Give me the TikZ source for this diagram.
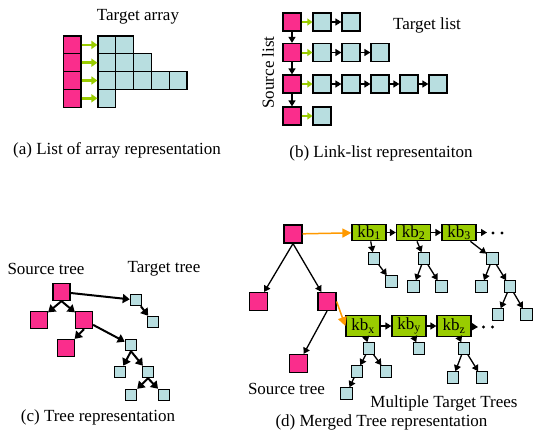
\documentclass[tikz,border=0pt]{standalone}
\usepackage{fontspec}
\setmainfont{Liberation Serif}
\usetikzlibrary{arrows.meta}
\definecolor{srcpink}{RGB}{250,45,140}
\definecolor{tgtcyan}{RGB}{184,222,224}
\definecolor{kbgreen}{RGB}{153,204,0}
\definecolor{linkorange}{RGB}{255,153,0}

\begin{document}
\begin{tikzpicture}[x=1pt,y=-1pt,
    every node/.style={font=\fontsize{17}{20}\selectfont},
    src/.style={draw,fill=srcpink,line width=1.2pt,minimum size=18pt,inner sep=0pt},
    tgt/.style={draw,fill=tgtcyan,line width=1.2pt,minimum size=18pt,inner sep=0pt},
    leaf/.style={draw,fill=tgtcyan,line width=1pt,minimum size=11.5pt,inner sep=0pt},
    kb/.style={draw,fill=kbgreen,line width=1.2pt,minimum width=34pt,minimum height=16.5pt,inner sep=0pt},
    dotnode/.style={circle,fill,minimum size=3.4pt,inner sep=0pt},
    ptr/.style={-{Triangle[length=6pt,width=7pt]},line width=1.3pt},
    treeptr/.style={-{Triangle[length=7pt,width=9pt]},line width=2pt},
    greenptr/.style={-{Triangle[length=6pt,width=8pt]},draw=kbgreen,fill=kbgreen,line width=2.5pt},
    orangeptr/.style={-{Triangle[length=9pt,width=9pt]},draw=linkorange,fill=linkorange,line width=1.5pt}]
  \useasboundingbox (0,0) rectangle (533,431);%

  % (a) list of arrays
  \foreach \i/\n in {1/2,2/3,3/5,4/1} {%
    \node[src,minimum size=17.8pt] (a\i) at (72,{27.1+17.8*\i}) {};%
    \foreach \j in {1,...,\n}
      \node[tgt,minimum size=17.8pt] (a\i-\j) at ({89.1+17.8*\j},{27.1+17.8*\i}) {};%
    \draw[greenptr] (a\i) -- (a\i-1);%
  }
  \node (tarray) at (138,17) {Target array};%
  \node (capa) at (117,150) {(a) List of array representation};%

  % (b) link-lists
  \foreach \i/\y/\n in {1/22/2,2/52.5/3,3/84/5,4/116/1} {%
    \node[src] (b\i) at (292,\y) {};%
    \foreach \j in {1,...,\n}
      \node[tgt] (b\i-\j) at ({293+29*\j},\y) {};%
    \draw[greenptr,line width=2pt,-{Triangle[length=5pt,width=7pt]}] (b\i) -- (b\i-1);%
  }
  \foreach \p/\q in {b1/b2,b2/b3,b3/b4,b1-1/b1-2,b2-1/b2-2,b2-2/b2-3,b3-1/b3-2,b3-2/b3-3,b3-3/b3-4,b3-4/b3-5}
    \draw[ptr] (\p) -- (\q);%
  \node (tlist) at (427,25) {Target list};%
  \node[rotate=90] (slist) at (268,72.5) {Source list};%
  \node (capb) at (381,153) {(b) Link-list representaiton};%

  % (c) trees
  \node[src,minimum size=17pt] (pc0) at (61.5,292) {};%
  \node[src,minimum size=17pt] (pc1) at (39,320) {};%
  \node[src,minimum size=17pt] (pc2) at (84,320) {};%
  \node[src,minimum size=17pt] (pc3) at (66,348) {};%
  \node[leaf] (tc0) at (136,300) {};%
  \node[leaf] (tc1) at (153,322) {};%
  \node[leaf] (tc2) at (131,345) {};%
  \node[leaf] (tc3) at (120,372) {};%
  \node[leaf] (tc4) at (148,372) {};%
  \node[leaf] (tc5) at (131,395) {};%
  \node[leaf] (tc6) at (164,395) {};%
  \draw[treeptr] (pc0.south) -- (pc1);%
  \draw[treeptr] (pc0.south) -- (pc2);%
  \draw[treeptr] (pc2.south) -- (pc3);%
  \draw[treeptr] (pc0) -- (tc0);%
  \draw[treeptr] (tc0) -- (tc1);%
  \draw[treeptr] (pc2) -- (tc2);%
  \draw[treeptr] (tc2.south) -- (tc3);%
  \draw[treeptr] (tc2.south) -- (tc4);%
  \draw[treeptr] (tc4.south) -- (tc5);%
  \draw[treeptr] (tc4.south) -- (tc6);%
  \node (stree) at (46,269) {Source tree};%
  \node (ttree) at (164,269) {Target tree};%
  \node (capc) at (98,417) {(c) Tree representation};%

  % (d) merged tree
  \node[src] (pd0) at (293,234) {};%
  \node[src] (pd1) at (258.5,301.5) {};%
  \node[src] (pd2) at (327,301.5) {};%
  \node[src] (pd3) at (298.5,363.5) {};%
  \draw[ptr] (pd0.south) -- (pd1);%
  \draw[ptr] (pd0.south) -- (pd2);%
  \draw[ptr] (pd2.south) -- (pd3);%
  \node[kb] (kb1) at (369,232.5) {kb\textsubscript{1}};%
  \node[kb] (kb2) at (413.5,232.5) {kb\textsubscript{2}};%
  \node[kb] (kb3) at (459,232.5) {kb\textsubscript{3}};%
  \node[kb,minimum height=21pt] (kbx) at (363,326) {kb\textsubscript{x}};%
  \node[kb,minimum height=21pt] (kby) at (409,326) {kb\textsubscript{y}};%
  \node[kb,minimum height=21pt] (kbz) at (454,326) {kb\textsubscript{z}};%
  \coordinate (end1) at (487,232.5);%
  \coordinate (end2) at (478,327);%
  \node[dotnode] (dot1a) at (493,233) {};%
  \node[dotnode] (dot1b) at (502,233) {};%
  \node[dotnode] (dot2a) at (483.5,327) {};%
  \node[dotnode] (dot2b) at (492.5,327) {};%
  \draw[ptr] (kb1) -- (kb2);%
  \draw[ptr] (kb2) -- (kb3);%
  \draw[ptr] (kb3) -- (end1);%
  \draw[ptr] (kbx) -- (kby);%
  \draw[ptr] (kby) -- (kbz);%
  \draw[ptr] (kbz) -- (end2);%
  \draw[orangeptr] (pd0) -- (kb1);%
  \draw[orangeptr] (pd2.east) -- (kbx.west);%
  % target trees under the kb boxes
  \node[leaf] (c1) at (374,258.5) {};%
  \node[leaf] (c1a) at (391.5,281.5) {};%
  \node[leaf] (c2) at (424,258.5) {};%
  \node[leaf] (c2a) at (413.5,286.5) {};%
  \node[leaf] (c2b) at (441.5,286.5) {};%
  \node[leaf] (c3) at (492.5,258.5) {};%
  \node[leaf] (c3a) at (481.5,286.5) {};%
  \node[leaf] (c3b) at (510,286.5) {};%
  \node[leaf] (c3ba) at (498,314.5) {};%
  \node[leaf] (c3bb) at (526.5,314.5) {};%
  \node[leaf] (cx) at (369,348.5) {};%
  \node[leaf] (cxa) at (357,371.5) {};%
  \node[leaf] (cxb) at (386,371.5) {};%
  \node[leaf] (cxaa) at (346.5,393.5) {};%
  \node[leaf] (cy) at (419,348.5) {};%
  \node[leaf] (cz) at (464,348.5) {};%
  \node[leaf] (cza) at (453,377.5) {};%
  \node[leaf] (czb) at (482,377.5) {};%
  \foreach \p/\q in {kb1/c1,c1/c1a,kb2/c2,c2/c2a,c2/c2b,kb3/c3,c3/c3a,c3/c3b,c3b/c3ba,c3b/c3bb,
      kbx/cx,cx/cxa,cx/cxb,cxa/cxaa,kby/cy,kbz/cz,cz/cza,cz/czb}
    \draw[ptr] (\p) -- (\q);%
  \node (stree2) at (286.5,389) {Source tree};%
  \node (mtrees) at (444,403) {Multiple Target Trees};%
  \node (capd) at (381.5,422) {(d) Merged Tree representation};%
\end{tikzpicture}
\end{document}
